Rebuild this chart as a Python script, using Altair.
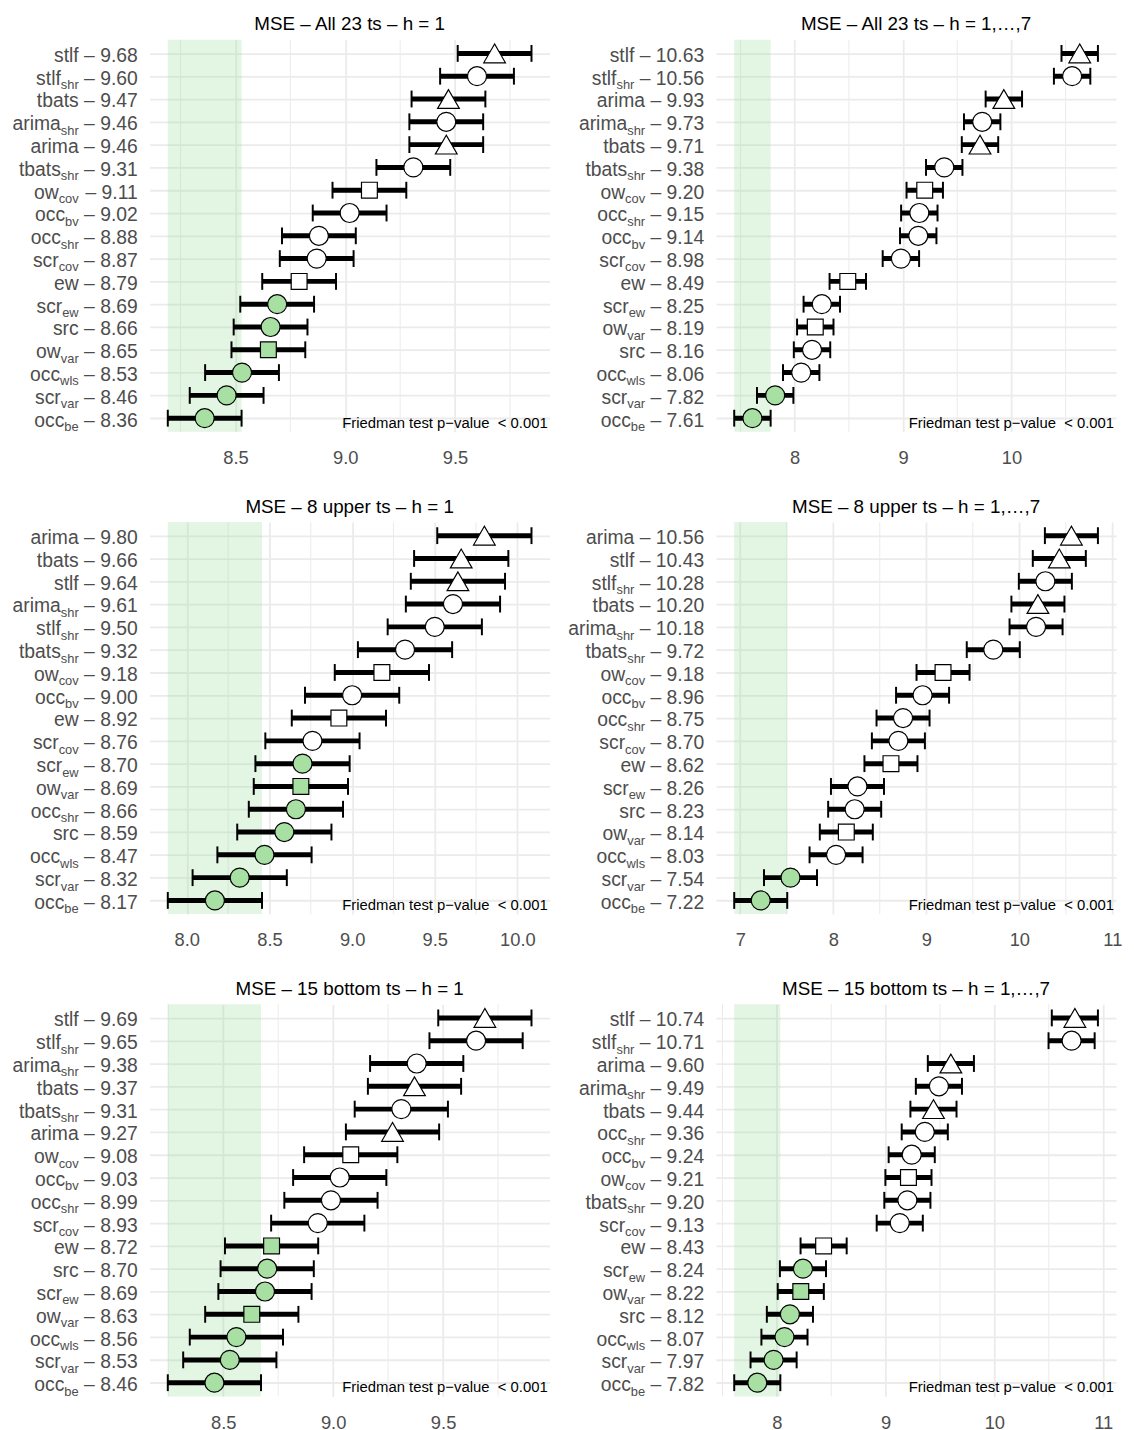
import altair as alt
import pandas as pd

FONT = "Liberation Sans"

TITLES = [
    "MSE – All 23 ts – h = 1",
    "MSE – All 23 ts – h = 1,…,7",
    "MSE – 8 upper ts – h = 1",
    "MSE – 8 upper ts – h = 1,…,7",
    "MSE – 15 bottom ts – h = 1",
    "MSE – 15 bottom ts – h = 1,…,7",
]

P1_METHODS = ["stlf", "stlf_shr", "tbats", "arima_shr", "arima", "tbats_shr", "ow_cov", "occ_bv",
              "occ_shr", "scr_cov", "ew", "scr_ew", "src", "ow_var", "occ_wls", "scr_var", "occ_be"]
P1_VALUES = [9.68, 9.60, 9.47, 9.46, 9.46, 9.31, 9.11, 9.02, 8.88, 8.87, 8.79, 8.69, 8.66, 8.65, 8.53, 8.46, 8.36]

P2_METHODS = ["stlf", "stlf_shr", "arima", "arima_shr", "tbats", "tbats_shr", "ow_cov", "occ_shr",
              "occ_bv", "scr_cov", "ew", "scr_ew", "ow_var", "src", "occ_wls", "scr_var", "occ_be"]
P2_VALUES = [10.63, 10.56, 9.93, 9.73, 9.71, 9.38, 9.20, 9.15, 9.14, 8.98, 8.49, 8.25, 8.19, 8.16, 8.06, 7.82, 7.61]

P3_METHODS = ["arima", "tbats", "stlf", "arima_shr", "stlf_shr", "tbats_shr", "ow_cov", "occ_bv",
              "ew", "scr_cov", "scr_ew", "ow_var", "occ_shr", "src", "occ_wls", "scr_var", "occ_be"]
P3_VALUES = [9.80, 9.66, 9.64, 9.61, 9.50, 9.32, 9.18, 9.00, 8.92, 8.76, 8.70, 8.69, 8.66, 8.59, 8.47, 8.32, 8.17]

P4_METHODS = ["arima", "stlf", "stlf_shr", "tbats", "arima_shr", "tbats_shr", "ow_cov", "occ_bv",
              "occ_shr", "scr_cov", "ew", "scr_ew", "src", "ow_var", "occ_wls", "scr_var", "occ_be"]
P4_VALUES = [10.56, 10.43, 10.28, 10.20, 10.18, 9.72, 9.18, 8.96, 8.75, 8.70, 8.62, 8.26, 8.23, 8.14, 8.03, 7.54, 7.22]

P5_METHODS = ["stlf", "stlf_shr", "arima_shr", "tbats", "tbats_shr", "arima", "ow_cov", "occ_bv",
              "occ_shr", "scr_cov", "ew", "src", "scr_ew", "ow_var", "occ_wls", "scr_var", "occ_be"]
P5_VALUES = [9.69, 9.65, 9.38, 9.37, 9.31, 9.27, 9.08, 9.03, 8.99, 8.93, 8.72, 8.70, 8.69, 8.63, 8.56, 8.53, 8.46]

P6_METHODS = ["stlf", "stlf_shr", "arima", "arima_shr", "tbats", "occ_shr", "occ_bv", "ow_cov",
              "tbats_shr", "scr_cov", "ew", "scr_ew", "ow_var", "src", "occ_wls", "scr_var", "occ_be"]
P6_VALUES = [10.74, 10.71, 9.60, 9.49, 9.44, 9.36, 9.24, 9.21, 9.20, 9.13, 8.43, 8.24, 8.22, 8.12, 8.07, 7.97, 7.82]

METHODS = [P1_METHODS, P2_METHODS, P3_METHODS, P4_METHODS, P5_METHODS, P6_METHODS]
VALUES = [P1_VALUES, P2_VALUES, P3_VALUES, P4_VALUES, P5_VALUES, P6_VALUES]

# half-width of the comparison interval in each panel
HALF_WIDTH = [0.168, 0.168, 0.285, 0.285, 0.212, 0.212]

TICKS = [[8.5, 9.0, 9.5], [8, 9, 10], [8.0, 8.5, 9.0, 9.5, 10.0],
         [7, 8, 9, 10, 11], [8.5, 9.0, 9.5], [8, 9, 10, 11]]
TICK_FORMAT = [".1f", "d", ".1f", "d", ".1f", "d"]

NOTE = "Friedman test p\u2212value\u00a0 < 0.001"

# ---- styling ----
W, H = 404, 396
FS, SFS = 19.5, 13
GAP = 12
GRID = "#EBEBEB"
LABEL_COLOR = "#4D4D4D"
GREEN = "#A8E0A3"
BAND = "#8FD88F"

# Arial / Liberation Sans advance widths (per 1000 em)
ADV = {' ': 278, '\u2013': 556, '.': 278, 'a': 556, 'b': 556, 'c': 500, 'e': 556, 'f': 278,
       'h': 556, 'i': 222, 'l': 222, 'm': 833, 'o': 556, 'r': 333, 's': 500, 't': 278,
       'v': 500, 'w': 722}


def tw(s, fs):
    return sum(ADV.get(ch, 556) for ch in s) / 1000.0 * fs


def shape_of(m):
    if m in ("stlf", "tbats", "arima"):
        return "tri"
    if m.split("_")[0] in ("ow", "ew"):
        return "sq"
    return "circ"


def panel(i):
    meths, vals, h = METHODS[i], VALUES[i], HALF_WIDTH[i]
    best = min(vals)
    rows = []
    for m, v in zip(meths, vals):
        parts = m.split("_")
        base = parts[0]
        sub = parts[1] if len(parts) > 1 else ""
        suffix = " \u2013 " + f"{v:.2f}"
        px_suf = -GAP
        px_sub = px_suf - tw(suffix, FS)
        px_base = px_sub - tw(sub, SFS)
        rows.append(dict(method=m, base=base, sub=sub, suffix=suffix, value=v,
                         lo=v - h, hi=v + h, shape=shape_of(m),
                         sig="g" if (v - h) < (best + h) else "w",
                         px_suf=px_suf, px_sub=px_sub, px_base=px_base))
    df = pd.DataFrame(rows)
    caps = pd.concat([df[["method", "lo"]].rename(columns={"lo": "end"}),
                      df[["method", "hi"]].rename(columns={"hi": "end"})])
    dlo, dhi = min(vals) - h, max(vals) + h
    pad = 0.05 * (dhi - dlo)
    dlo, dhi = dlo - pad, dhi + pad
    ticks = TICKS[i]
    step = ticks[1] - ticks[0]
    minors = [t - step / 2 for t in ticks] + [ticks[-1] + step / 2]
    minors = [m for m in minors if dlo <= m <= dhi]
    minor_df = pd.DataFrame({"m": minors})
    band_df = pd.DataFrame({"blo": [best - h], "bhi": [best + h]})
    note_df = pd.DataFrame({"note": [NOTE]})

    xs = alt.Scale(domain=[dlo, dhi], nice=False, zero=False)
    xaxis = alt.Axis(values=ticks, format=TICK_FORMAT[i], title=None, domain=False, ticks=False,
                     tickSize=0, labelPadding=17, labelFontSize=18.5, labelColor=LABEL_COLOR,
                     labelFont=FONT, labelFlush=False, grid=True, gridColor=GRID, gridWidth=1.8)
    yenc = alt.Y("method:N", scale=alt.Scale(type="point", domain=meths, padding=0.6),
                 axis=alt.Axis(labels=False, ticks=False, domain=False, title=None, grid=True,
                               gridColor=GRID, gridWidth=1.8))

    minor = alt.Chart(minor_df).mark_rule(color=GRID, strokeWidth=1).encode(
        x=alt.X("m:Q", scale=xs, axis=xaxis), y=alt.value(0), y2=alt.value(H))
    band = alt.Chart(band_df).mark_rect(color=BAND, opacity=0.25).encode(
        x=alt.X("blo:Q", scale=xs, axis=xaxis), x2="bhi:Q", y=alt.value(0), y2=alt.value(H))
    bars = alt.Chart(df).mark_rule(color="black", strokeWidth=5).encode(
        x=alt.X("lo:Q", scale=xs, axis=xaxis), x2="hi:Q", y=yenc)
    capm = alt.Chart(caps).mark_tick(color="black", orient="vertical", size=17, thickness=2,
                                     opacity=1).encode(
        x=alt.X("end:Q", scale=xs, axis=xaxis), y=yenc)
    pts = alt.Chart(df).mark_point(filled=True, opacity=1, stroke="black", strokeWidth=1.2).encode(
        x=alt.X("value:Q", scale=xs, axis=xaxis), y=yenc,
        shape=alt.Shape("shape:N", scale=alt.Scale(domain=["tri", "circ", "sq"],
                                                    range=["triangle-up", "circle", "square"]),
                        legend=None),
        size=alt.Size("shape:O", scale=alt.Scale(domain=["tri", "circ", "sq"],
                                                  range=[480, 256, 210]), legend=None),
        fill=alt.Fill("sig:N", scale=alt.Scale(domain=["g", "w"], range=[GREEN, "white"]),
                      legend=None))
    t_base = alt.Chart(df).mark_text(align="right", baseline="alphabetic", dy=8.5, fontSize=FS,
                                     color=LABEL_COLOR, font=FONT).encode(
        x=alt.X("px_base:Q", scale=None, axis=None), y=yenc, text="base:N")
    t_sub = alt.Chart(df[df["sub"] != ""]).mark_text(align="right", baseline="alphabetic", dy=13,
                                                     fontSize=SFS, color=LABEL_COLOR,
                                                     font=FONT).encode(
        x=alt.X("px_sub:Q", scale=None, axis=None), y=yenc, text="sub:N")
    t_suf = alt.Chart(df).mark_text(align="right", baseline="alphabetic", dy=8.5, fontSize=FS,
                                    color=LABEL_COLOR, font=FONT).encode(
        x=alt.X("px_suf:Q", scale=None, axis=None), y=yenc, text="suffix:N")
    note = alt.Chart(note_df).mark_text(align="right", baseline="alphabetic", fontSize=15,
                                        color="black", font=FONT).encode(
        x=alt.value(W - 2), y=alt.value(H - 4), text="note:N")

    return alt.layer(minor, band, bars, capm, pts, t_base, t_sub, t_suf, note).properties(
        width=W, height=H,
        title=alt.TitleParams(TITLES[i], fontSize=19, font=FONT, color="black",
                              fontWeight="normal", anchor="middle", frame="group", offset=5))


panels = [panel(i) for i in range(6)]

chart = alt.concat(*panels, columns=2, spacing={"row": 30, "column": 18}).properties(
    padding={"left": 4, "top": 0, "right": 4, "bottom": 0},
    background="white",
).configure(font=FONT).configure_view(stroke=None)

chart.save("out.html", embed_options={"renderer": "svg", "actions": False})
